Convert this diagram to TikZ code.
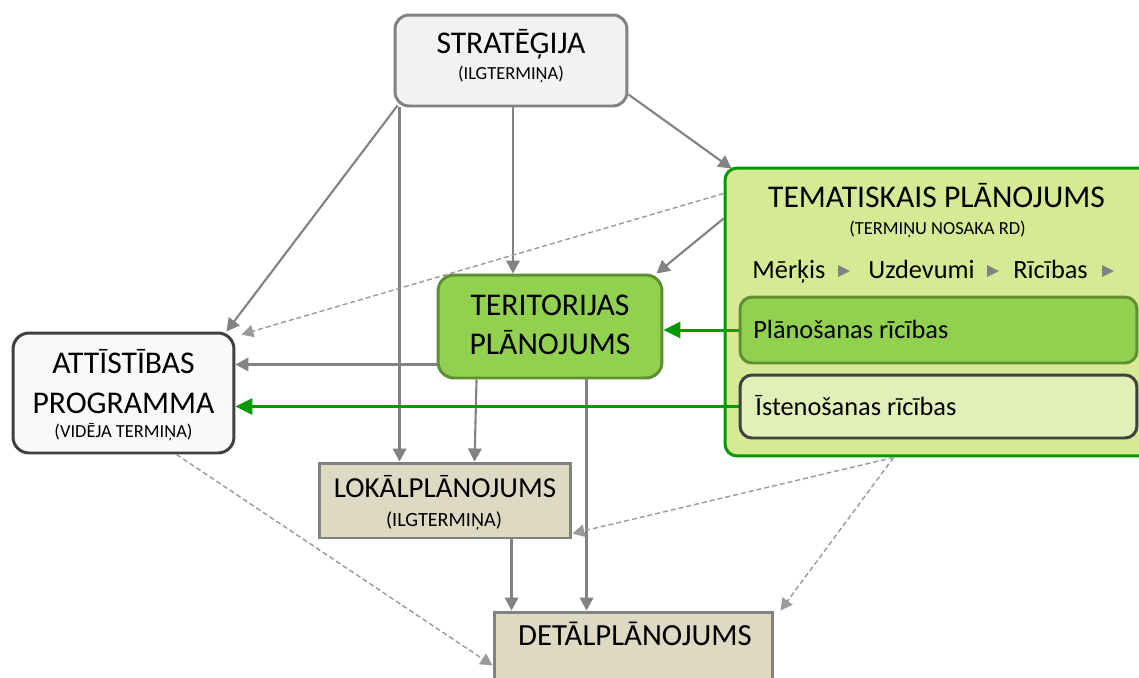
\documentclass[tikz,border=0pt]{standalone}
\usepackage{fontspec}
\setmainfont{Carlito}
\usetikzlibrary{arrows.meta,calc}
\definecolor{linegray}{HTML}{828282}
\definecolor{dashgray}{HTML}{9A9A9A}
\definecolor{stratfill}{HTML}{F2F2F2}
\definecolor{temfill}{HTML}{D7E995}
\definecolor{temline}{HTML}{009A00}
\definecolor{terfill}{HTML}{92D050}
\definecolor{terline}{HTML}{5F8F30}
\definecolor{istfill}{HTML}{E3EFB9}
\definecolor{darkline}{HTML}{404040}
\definecolor{attfill}{HTML}{F9F9F9}
\definecolor{lokfill}{HTML}{DDD9C3}
\begin{document}
\begin{tikzpicture}[x=0.02cm,y=-0.02cm,
  box/.style={draw,line width=1.7pt,inner sep=0pt},
  link/.style={draw=linegray,line width=1.2pt,-{Triangle[length=0.26cm,width=0.27cm]}},
  dlink/.style={draw=dashgray,line width=0.8pt,dash pattern=on 0.1cm off 0.06cm,-{Triangle[length=0.24cm,width=0.25cm]}},
  glink/.style={draw=temline,line width=1.7pt,-{Triangle[length=0.34cm,width=0.32cm]}},
  big/.style={font=\fontsize{18}{20}\selectfont,anchor=base,inner sep=0pt},
  mid/.style={font=\fontsize{15}{18}\selectfont,anchor=base west,inner sep=0pt},
  small/.style={font=\fontsize{10.5}{12}\selectfont,anchor=base,inner sep=0pt}]
  \useasboundingbox (0,0) rectangle (1139,677);
  \fill[white] (0,0) rectangle (1139,677);
  \clip (0,0) rectangle (1139,677);

  % boxes
  \node[box,draw=linegray,fill=stratfill,rounded corners=0.28cm,minimum width=4.64cm,minimum height=1.82cm] (strat) at (511,60.5) {};
  \node[box,draw=temline,fill=temfill,rounded corners=0.24cm,minimum width=8.54cm,minimum height=5.76cm] (tem) at (938.5,312) {};
  \node[box,draw=terline,fill=terfill,rounded corners=0.24cm,minimum width=7.94cm,minimum height=1.32cm] (plan) at (938.5,330) {};
  \node[box,draw=darkline,fill=istfill,rounded corners=0.24cm,minimum width=7.94cm,minimum height=1.26cm] (isten) at (938.5,406.5) {};
  \node[box,draw=terline,fill=terfill,rounded corners=0.32cm,minimum width=4.48cm,minimum height=2.06cm] (ter) at (550,326.5) {};
  \node[box,draw=darkline,fill=attfill,rounded corners=0.32cm,minimum width=4.42cm,minimum height=2.4cm] (att) at (123.5,393) {};
  \node[box,draw=linegray,fill=lokfill,minimum width=5.04cm,minimum height=1.5cm] (lok) at (445,500.5) {};
  \node[box,draw=linegray,fill=lokfill,minimum width=5.58cm,minimum height=1.92cm] (det) at (633.5,660) {};

  % texts
  \node[big] (strattitle) at (511,53) {STRATĒĢIJA};
  \node[small] (stratsub) at (511,79) {(ILGTERMIŅA)};
  \node[big] (temtitle) at (936.5,207) {TEMATISKAIS PLĀNOJUMS};
  \node[small] (temsub) at (937.5,234) {(TERMIŅU NOSAKA RD)};
  \node[mid] (merkis) at (752,278) {Mērķis};
  \node[mid] (uzdevumi) at (868,278) {Uzdevumi};
  \node[mid] (ricibas) at (1013,278) {Rīcības};
  \foreach \tx in {838,987,1102}
    \fill[linegray] (\tx,265) -- (\tx,277) -- (\tx+12,271) -- cycle;
  \node[mid] (plantext) at (753,338) {Plānošanas rīcības};
  \node[mid] (istentext) at (755,415) {Īstenošanas rīcības};
  \node[big] (tertitle) at (550,315) {TERITORIJAS};
  \node[big] (tertitle2) at (550,354) {PLĀNOJUMS};
  \node[big] (atttitle) at (123.5,373) {ATTĪSTĪBAS};
  \node[big] (atttitle2) at (123.5,413) {PROGRAMMA};
  \node[small] (attsub) at (123.5,437.5) {(VIDĒJA TERMIŅA)};
  \node[big,font=\fontsize{16.5}{19}\selectfont] (loktitle) at (445,497) {LOKĀLPLĀNOJUMS};
  \node[small,font=\fontsize{11.5}{13}\selectfont] (loksub) at (444,526) {(ILGTERMIŅA)};
  \node[big,font=\fontsize{17.5}{20}\selectfont] (dettitle) at (635,645) {DETĀLPLĀNOJUMS};

  % connectors
  \coordinate (s1) at ([shift={(6,0)}]strat.south west);
  \coordinate (s2) at ([shift={(2,0)}]strat.south);
  \coordinate (t1) at ([shift={(0,-15)}]ter.south west);
  \coordinate (t2) at ([shift={(150,0)}]ter.south west);
  \coordinate (l1) at ([shift={(194,0)}]lok.south west);
  \coordinate (m1) at ([shift={(170,0)}]tem.south west);
  \draw[link] ([shift={(4,-2)}]strat.south west) -- ([shift={(-9,0)}]att.north east);
  \draw[link] (s1) -- (s1 |- lok.north);
  \draw[link] (s2) -- (s2 |- ter.north);
  \draw[link] ([shift={(0,-13)}]strat.south east) -- ([shift={(8,2)}]tem.north west);
  \draw[link] ([shift={(0,52)}]tem.north west) -- ([shift={(-7,0)}]ter.north east);
  \draw[link] (t1) -- (t1 -| att.east);
  \draw[link] ([shift={(40,0)}]ter.south west) -- ([shift={(157,0)}]lok.north west);
  \draw[link] (t2) -- (t2 |- det.north);
  \draw[link] (l1) -- (l1 |- det.north);
  \draw[dlink] ([shift={(0,27)}]tem.north west) -- ([shift={(6,3)}]att.north east);
  \draw[dlink] ([shift={(-59,0)}]att.south east) -- ([shift={(0,55)}]det.north west);
  \draw[dlink] (m1) -- ([shift={(0,-6)}]lok.south east);
  \draw[dlink] (m1) -- ([shift={(6,0)}]det.north east);
  \draw[glink] (plan.west) -- (plan.west -| ter.east);
  \draw[glink] (isten.west) -- (isten.west -| att.east);
\end{tikzpicture}
\end{document}
